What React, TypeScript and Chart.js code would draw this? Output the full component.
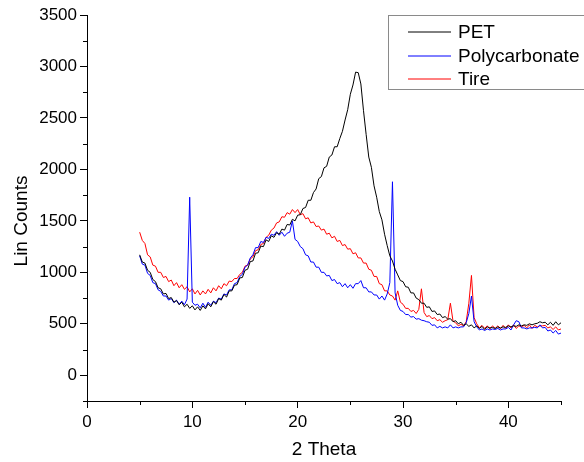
import { useEffect, useRef } from "react";
import { Chart, registerables } from "chart.js";

Chart.register(...registerables);

const twoTheta: number[] = [
  5, 5.25, 5.5, 5.75, 6, 6.25, 6.5, 6.75,
  7, 7.25, 7.5, 7.75, 8, 8.25, 8.5, 8.75,
  9, 9.25, 9.5, 9.75, 10, 10.25, 10.5, 10.75,
  11, 11.25, 11.5, 11.75, 12, 12.25, 12.5, 12.75,
  13, 13.25, 13.5, 13.75, 14, 14.25, 14.5, 14.75,
  15, 15.25, 15.5, 15.75, 16, 16.25, 16.5, 16.75,
  17, 17.25, 17.5, 17.75, 18, 18.25, 18.5, 18.75,
  19, 19.25, 19.5, 19.75, 20, 20.25, 20.5, 20.75,
  21, 21.25, 21.5, 21.75, 22, 22.25, 22.5, 22.75,
  23, 23.25, 23.5, 23.75, 24, 24.25, 24.5, 24.75,
  25, 25.25, 25.5, 25.75, 26, 26.25, 26.5, 26.75,
  27, 27.25, 27.5, 27.75, 28, 28.25, 28.5, 28.75,
  29, 29.25, 29.5, 29.75, 30, 30.25, 30.5, 30.75,
  31, 31.25, 31.5, 31.75, 32, 32.25, 32.5, 32.75,
  33, 33.25, 33.5, 33.75, 34, 34.25, 34.5, 34.75,
  35, 35.25, 35.5, 35.75, 36, 36.25, 36.5, 36.75,
  37, 37.25, 37.5, 37.75, 38, 38.25, 38.5, 38.75,
  39, 39.25, 39.5, 39.75, 40, 40.25, 40.5, 40.75,
  41, 41.25, 41.5, 41.75, 42, 42.25, 42.5, 42.75,
  43, 43.25, 43.5, 43.75, 44, 44.25, 44.5, 44.75,
  45,
];

const petCounts: number[] = [
  1170, 1100, 1090, 1020, 1000, 930, 910, 850,
  840, 790, 795, 745, 755, 710, 725, 685,
  710, 665, 690, 650, 675, 635, 665, 630,
  675, 645, 695, 665, 715, 690, 745, 730,
  785, 760, 820, 820, 875, 880, 945, 950,
  1020, 1030, 1105, 1110, 1185, 1190, 1255, 1250,
  1315, 1300, 1355, 1340, 1385, 1370, 1420, 1410,
  1465, 1460, 1515, 1500, 1555, 1560, 1620, 1630,
  1700, 1700, 1775, 1810, 1910, 1930, 2015, 2030,
  2120, 2140, 2220, 2220, 2300, 2370, 2480, 2580,
  2730, 2820, 2945, 2940, 2830, 2570, 2340, 2120,
  2020, 1840, 1730, 1590, 1510, 1370, 1260, 1160,
  1110, 1030, 975, 920, 910, 860, 855, 800,
  800, 750, 735, 700, 700, 660, 665, 620,
  625, 590, 595, 560, 570, 545, 550, 520,
  530, 500, 515, 485, 500, 475, 490, 460,
  480, 455, 475, 445, 470, 460, 465, 455,
  470, 460, 470, 465, 480, 470, 480, 475,
  490, 480, 490, 485, 500, 490, 500, 505,
  520, 510, 515, 490, 515, 485, 520, 490,
  510,
];

const polycarbonateCounts: number[] = [
  1160, 1080, 1070, 990, 970, 900, 890, 830,
  815, 770, 770, 730, 745, 705, 730, 690,
  720, 685, 740, 1730, 710, 680, 690, 655,
  700, 660, 710, 680, 720, 705, 750, 740,
  790, 780, 830, 830, 890, 900, 960, 980,
  1050, 1070, 1140, 1170, 1240, 1240, 1300, 1290,
  1340, 1330, 1370, 1360, 1395, 1360, 1390, 1350,
  1380, 1390, 1500, 1320, 1300, 1250, 1230, 1170,
  1160, 1100, 1100, 1050, 1050, 1000, 1000, 965,
  970, 920, 930, 890, 900, 860, 890, 850,
  880, 845, 890, 890, 920, 850, 850, 810,
  810, 780, 780, 740, 770, 730, 790, 900,
  1880, 800, 680, 630, 620, 590, 590, 565,
  570, 545, 550, 535, 530, 520, 515, 485,
  490, 460, 475, 460, 470, 460, 490, 460,
  470, 460, 470, 470, 510, 600, 770, 520,
  470, 440, 450, 435, 450, 440, 450, 445,
  455, 440, 450, 450, 465, 440, 490, 530,
  520, 460, 460, 450, 460, 460, 465, 460,
  490, 460, 465, 430, 440, 410, 435, 400,
  410,
];

const tireCounts: number[] = [
  1390, 1310, 1280, 1170, 1150, 1070, 1060, 1000,
  1000, 950, 960, 910, 925, 870, 900, 850,
  880, 835, 860, 810, 840, 790, 825, 780,
  820, 790, 835, 800, 850, 820, 870, 840,
  890, 870, 915, 910, 940, 940, 980, 1000,
  1060, 1070, 1130, 1150, 1210, 1220, 1270, 1280,
  1340, 1360, 1410, 1430, 1480, 1490, 1540, 1535,
  1580, 1565, 1610, 1580, 1610, 1560, 1570, 1520,
  1530, 1480, 1490, 1445, 1450, 1410, 1420, 1370,
  1380, 1335, 1350, 1300, 1310, 1260, 1270, 1225,
  1230, 1180, 1190, 1140, 1140, 1090, 1090, 1030,
  1020, 960, 960, 890, 880, 820, 820, 780,
  770, 730, 820, 710, 690, 650, 650, 620,
  630, 600, 640, 840, 610, 570, 580, 550,
  560, 530, 540, 515, 530, 540, 700, 525,
  510, 480, 495, 480, 520, 700, 970, 560,
  500, 460, 485, 455, 480, 450, 480, 455,
  480, 450, 485, 455, 490, 460, 490, 455,
  480, 470, 485, 460, 490, 455, 485, 470,
  480, 480, 485, 460, 470, 445, 470, 440,
  450,
];

const seriesNames: string[] = ["PET", "Polycarbonate", "Tire"];
const seriesColors: string[] = ["#000000", "#0000ff", "#ff0000"];

const xMajorTicks: number[] = [0, 10, 20, 30, 40];
const xMinorTicks: number[] = [5, 15, 25, 35, 45];
const yMajorTicks: number[] = [0, 500, 1000, 1500, 2000, 2500, 3000, 3500];
const yMinorTicks: number[] = [-250, 250, 750, 1250, 1750, 2250, 2750, 3250];

const FONT = "'Liberation Sans', Arial, Helvetica, sans-serif";

export default function App() {
  const ref = useRef<HTMLCanvasElement>(null);

  useEffect(() => {
    document.body.style.margin = "0";
    const canvas = ref.current;
    if (!canvas) return;

    const toPoints = (ys: number[]) => ys.map((y, i) => ({ x: twoTheta[i], y }));
    const allSeries = [petCounts, polycarbonateCounts, tireCounts];

    const extras = {
      id: "extras",
      afterDraw(chart: any) {
        const { ctx, chartArea, scales } = chart;
        ctx.save();
        // minor ticks
        ctx.strokeStyle = "#000";
        ctx.lineWidth = 1;
        ctx.beginPath();
        for (const v of yMinorTicks) {
          const py = Math.round(scales.y.getPixelForValue(v)) + 0.5;
          ctx.moveTo(chartArea.left - 4, py);
          ctx.lineTo(chartArea.left, py);
        }
        for (const v of xMinorTicks) {
          const px = Math.round(scales.x.getPixelForValue(v)) + 0.5;
          ctx.moveTo(px, chartArea.bottom);
          ctx.lineTo(px, chartArea.bottom + 4);
        }
        ctx.stroke();

        // y axis title
        ctx.save();
        ctx.translate(27, 221);
        ctx.rotate(-Math.PI / 2);
        ctx.fillStyle = "#000";
        ctx.font = `19px ${FONT}`;
        ctx.textAlign = "center";
        ctx.textBaseline = "alphabetic";
        ctx.fillText("Lin Counts", 0, 0);
        ctx.restore();

        // legend box
        ctx.fillStyle = "#ffffff";
        ctx.fillRect(388.5, 15.5, 220, 74);
        ctx.strokeStyle = "#8a8a8a";
        ctx.lineWidth = 1;
        ctx.strokeRect(388.5, 15.5, 220, 74);
        const rows = [32, 55.5, 79];
        ctx.font = `19px ${FONT}`;
        ctx.textAlign = "left";
        ctx.textBaseline = "middle";
        seriesNames.forEach((name, i) => {
          const y = Math.round(rows[i]);
          ctx.strokeStyle = seriesColors[i];
          ctx.lineWidth = 1;
          ctx.beginPath();
          ctx.moveTo(408, y);
          ctx.lineTo(451, y);
          ctx.stroke();
          ctx.fillStyle = "#000";
          ctx.fillText(name, 458, rows[i] + 1);
        });
        ctx.restore();
      },
    };

    const chart = new Chart(canvas, {
      type: "line",
      data: {
        datasets: seriesNames.map((name, i) => ({
          label: name,
          data: toPoints(allSeries[i]),
          borderColor: seriesColors[i],
          backgroundColor: seriesColors[i],
          borderWidth: 1,
          pointRadius: 0,
          tension: 0,
          fill: false,
        })),
      },
      options: {
        animation: false,
        responsive: true,
        maintainAspectRatio: false,
        layout: { padding: { top: 15, right: 23, left: 0, bottom: 0 } },
        plugins: {
          legend: { display: false },
          tooltip: { enabled: false },
          title: { display: false },
        },
        scales: {
          x: {
            type: "linear",
            min: 0,
            max: 45,
            afterBuildTicks: (s: any) => {
              s.ticks = xMajorTicks.map((v) => ({ value: v }));
            },
            afterFit: (s: any) => {
              s.height = 61;
            },
            grid: {
              drawOnChartArea: false,
              drawTicks: true,
              tickLength: 7,
              color: "#000",
              lineWidth: 1,
            },
            border: { display: true, color: "#000", width: 1 },
            ticks: {
              color: "#000",
              font: { family: FONT, size: 17 },
              padding: 4,
              maxRotation: 0,
              autoSkip: false,
              callback: (v: any) => String(v),
            },
            title: {
              display: true,
              text: "2 Theta",
              color: "#000",
              font: { family: FONT, size: 19 },
              padding: { top: 0, bottom: 1 },
            },
          },
          y: {
            type: "linear",
            min: -250,
            max: 3500,
            afterBuildTicks: (s: any) => {
              s.ticks = yMajorTicks.map((v) => ({ value: v }));
            },
            afterFit: (s: any) => {
              s.width = 87;
            },
            grid: {
              drawOnChartArea: false,
              drawTicks: true,
              tickLength: 7,
              color: "#000",
              lineWidth: 1,
            },
            border: { display: true, color: "#000", width: 1 },
            ticks: {
              color: "#000",
              font: { family: FONT, size: 17 },
              padding: 3,
              autoSkip: false,
              callback: (v: any) => String(v),
            },
            title: { display: false },
          },
        },
      },
      plugins: [extras],
    });

    return () => chart.destroy();
  }, []);

  return (
    <div style={{ position: "absolute", left: 0, top: 0, width: 584, height: 462, background: "#fff" }}>
      <canvas ref={ref} />
    </div>
  );
}
